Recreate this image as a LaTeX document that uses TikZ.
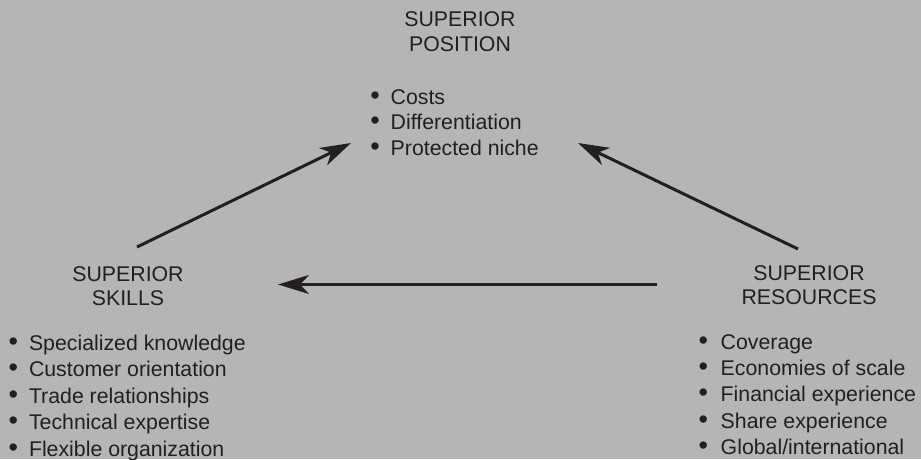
\documentclass[tikz,border=0pt]{standalone}
\usepackage{fontspec}
\setmainfont{Liberation Sans}
\usetikzlibrary{arrows.meta}
\definecolor{bg}{HTML}{B5B5B5}
\definecolor{ink}{HTML}{231F20}
\newcommand{\bul}{{\fontsize{27}{27}\selectfont•}}
\begin{document}
\begin{tikzpicture}[x=1pt,y=-1pt,
  txt/.style={inner sep=0pt,outer sep=0pt,text=ink,font=\fontsize{21.3}{25}\selectfont},
  ttl/.style={txt,anchor=base},
  itm/.style={txt,anchor=base west},
  conn/.style={draw=ink,line width=3pt,-{Stealth[length=31pt,width=19pt,inset=9pt]}}]
\fill[bg] (0,0) rectangle (921,459);
\useasboundingbox (0,0) rectangle (921,459);
% top block
\node[ttl] (t1) at (460,26) {SUPERIOR};
\node[ttl] (t2) at (460,51) {POSITION};
\node[itm] (p1) at (370.3,104) {\bul\hspace{10.95pt}Costs};
\node[itm] (p2) at (370.3,129.5) {\bul\hspace{10.95pt}Differentiation};
\node[itm] (p3) at (370.3,155) {\bul\hspace{10.95pt}Protected niche};
% left block
\node[ttl] (l1) at (128,281) {SUPERIOR};
\node[ttl] (l2) at (128,305) {SKILLS};
\node[itm] (s1) at (8.6,350) {\bul\hspace{10.95pt}Specialized knowledge};
\node[itm] (s2) at (8.6,376.5) {\bul\hspace{10.95pt}Customer orientation};
\node[itm] (s3) at (8.6,403) {\bul\hspace{10.95pt}Trade relationships};
\node[itm] (s4) at (8.6,429.5) {\bul\hspace{10.95pt}Technical expertise};
\node[itm] (s5) at (8.6,456) {\bul\hspace{10.95pt}Flexible organization};
% right block
\node[ttl] (r1) at (809,280) {SUPERIOR};
\node[ttl] (r2) at (809,304) {RESOURCES};
\node[itm] (q1) at (698.6,349.5) {\bul\hspace{12.65pt}Coverage};
\node[itm] (q2) at (698.6,375.7) {\bul\hspace{12.65pt}Economies of scale};
\node[itm] (q3) at (698.6,401.9) {\bul\hspace{12.65pt}Financial experience};
\node[itm] (q4) at (698.6,428.1) {\bul\hspace{12.65pt}Share experience};
\node[itm] (q5) at (698.6,454.3) {\bul\hspace{12.65pt}Global/international};
% arrow end points
\coordinate (aLs) at (137,247);
\coordinate (aLe) at (351,143);
\coordinate (aRs) at (798,249);
\coordinate (aRe) at (578,143);
\coordinate (aHs) at (657,284.5);
\coordinate (aHe) at (278,284.5);
\draw[conn] (aLs) -- (aLe);
\draw[conn] (aRs) -- (aRe);
\draw[conn] (aHs) -- (aHe);
\end{tikzpicture}
\end{document}
